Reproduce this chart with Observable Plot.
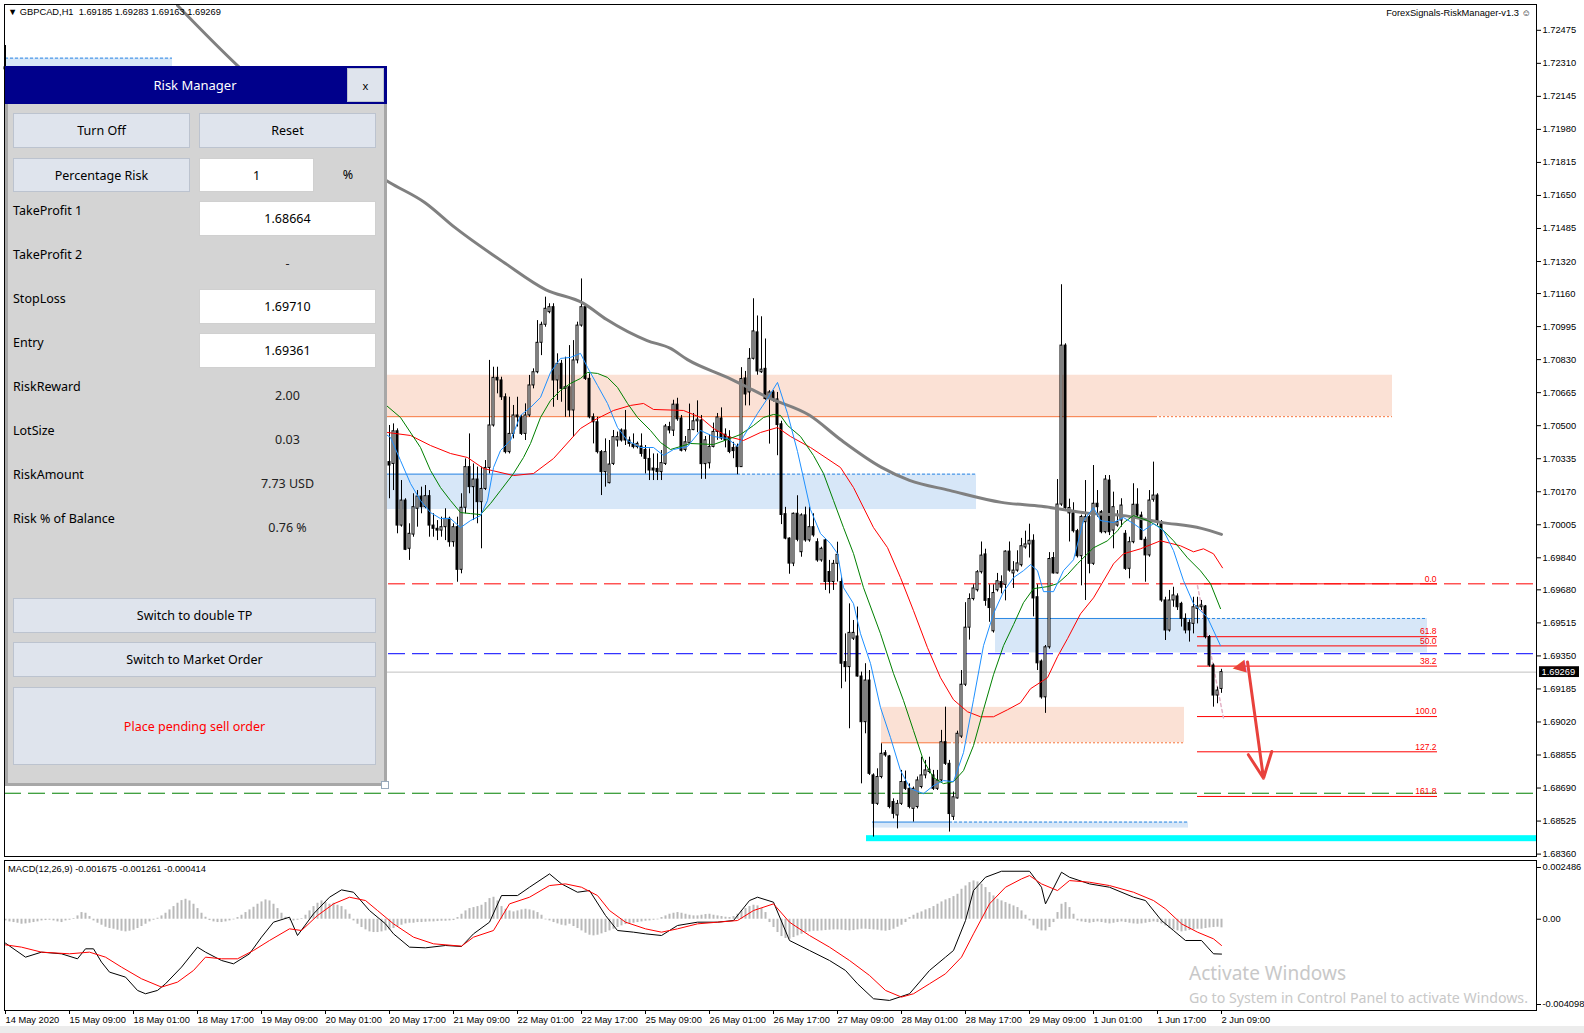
<!DOCTYPE html>
<html>
<head>
<meta charset="utf-8">
<script src="https://cdn.jsdelivr.net/npm/d3@7"></script>
<script src="https://cdn.jsdelivr.net/npm/@observablehq/plot@0.6"></script>
<style>
html,body{margin:0;padding:0;background:#fff;}
#wrap{position:relative;width:1584px;height:1033px;overflow:hidden;background:#fff;}
.abs{position:absolute;}
.t9{position:absolute;font-family:"Liberation Sans",Arial,sans-serif;font-size:9.3px;color:#000;white-space:pre;line-height:10px;}
.pf{font-family:"Noto Sans",sans-serif;font-size:12.5px;color:#000;}
.btn{position:absolute;box-sizing:border-box;background:#dfe4ed;border:1px solid #bcc3cf;display:flex;align-items:center;justify-content:center;}
.box{position:absolute;box-sizing:border-box;background:#fff;border:1px solid #d0d0d0;display:flex;align-items:center;justify-content:center;}
.lbl{position:absolute;left:13px;transform:translateY(-50%);white-space:nowrap;}
.val{position:absolute;left:199px;width:177px;text-align:center;transform:translateY(-50%);color:#222;}
</style>
</head>
<body>
<div id="wrap">
  <div id="main" class="abs" style="left:0;top:0"></div>
  <div id="macd" class="abs" style="left:0;top:858px"></div>

  <div class="t9" style="left:8px;top:7px">▼ GBPCAD,H1  1.69185 1.69283 1.69163 1.69269</div>
  <div class="t9" style="right:53px;top:8px">ForexSignals-RiskManager-v1.3 ☺</div>
  <div class="t9" style="left:8px;top:864px">MACD(12,26,9) -0.001675 -0.001261 -0.000414</div>

  <!-- Risk manager panel -->
  <div class="abs" style="left:5px;top:66px;width:382px;height:720px;background:#d4d4d4;box-sizing:border-box;border:3px solid #a7a7a7;border-top:none;"></div>
  <div class="abs pf" style="left:5px;top:66px;width:382px;height:38px;background:#00008b;"></div>
  <div class="abs pf" style="left:5px;top:66px;width:380px;height:38px;line-height:38px;text-align:center;color:#fff;font-size:13px;">Risk Manager</div>
  <div class="btn pf" style="left:347px;top:68px;width:37px;height:34px;font-size:11px;">x</div>

  <div class="btn pf" style="left:13px;top:113px;width:177px;height:35px;">Turn Off</div>
  <div class="btn pf" style="left:199px;top:113px;width:177px;height:35px;">Reset</div>
  <div class="btn pf" style="left:13px;top:158px;width:177px;height:34px;">Percentage Risk</div>
  <div class="box pf" style="left:199px;top:158px;width:115px;height:34px;">1</div>
  <div class="abs pf" style="left:338px;top:166px;width:20px;text-align:center;">%</div>

  <div class="lbl pf" style="top:210px">TakeProfit 1</div>
  <div class="box pf" style="left:199px;top:201px;width:177px;height:35px;">1.68664</div>
  <div class="lbl pf" style="top:254px">TakeProfit 2</div>
  <div class="val pf" style="top:263px">-</div>
  <div class="lbl pf" style="top:298px">StopLoss</div>
  <div class="box pf" style="left:199px;top:289px;width:177px;height:35px;">1.69710</div>
  <div class="lbl pf" style="top:342px">Entry</div>
  <div class="box pf" style="left:199px;top:333px;width:177px;height:35px;">1.69361</div>
  <div class="lbl pf" style="top:386px">RiskReward</div>
  <div class="val pf" style="top:395px">2.00</div>
  <div class="lbl pf" style="top:430px">LotSize</div>
  <div class="val pf" style="top:439px">0.03</div>
  <div class="lbl pf" style="top:474px">RiskAmount</div>
  <div class="val pf" style="top:483px">7.73 USD</div>
  <div class="lbl pf" style="top:518px">Risk % of Balance</div>
  <div class="val pf" style="top:527px">0.76 %</div>

  <div class="btn pf" style="left:13px;top:598px;width:363px;height:35px;">Switch to double TP</div>
  <div class="btn pf" style="left:13px;top:642px;width:363px;height:35px;">Switch to Market Order</div>
  <div class="btn pf" style="left:13px;top:687px;width:363px;height:78px;color:#ff0000;">Place pending sell order</div>
  <div class="abs" style="left:381px;top:781px;width:6px;height:6px;background:#fff;border:1px solid #9ab;"></div>

  <div class="abs" style="left:1189px;top:960px;font-family:'Noto Sans',sans-serif;font-size:19px;color:#c8c8c8;white-space:nowrap;">Activate Windows</div>
  <div class="abs" style="left:1189px;top:988px;font-family:'Noto Sans',sans-serif;font-size:14.2px;color:#c8c8c8;white-space:nowrap;">Go to System in Control Panel to activate Windows.</div>
  <div class="abs" style="left:0;top:1026px;width:1584px;height:7px;background:#ececec;"></div>
</div>

<script>
// ---------------- DATA ----------------
// price axis tick labels
const priceTicks = [1.72475,1.72310,1.72145,1.71980,1.71815,1.71650,1.71485,1.71320,1.71160,1.70995,1.70830,1.70665,1.70500,1.70335,1.70170,1.70005,1.69840,1.69680,1.69515,1.69350,1.69185,1.69020,1.68855,1.68690,1.68525,1.68360];
// time axis labels (bar index of each label)
const timeLabels = ["14 May 2020","15 May 09:00","18 May 01:00","18 May 17:00","19 May 09:00","20 May 01:00","20 May 17:00","21 May 09:00","22 May 01:00","22 May 17:00","25 May 09:00","26 May 01:00","26 May 17:00","27 May 09:00","28 May 01:00","28 May 17:00","29 May 09:00","1 Jun 01:00","1 Jun 17:00","2 Jun 09:00"];
const timeTickBars = [0,16,32,48,64,80,96,112,128,144,160,176,192,208,224,240,256,272,288,304];

// H1 candles (price x 1e5). bar 0 partly visible above the panel, then bars 96..304
const bar0 = [172290,172399,172200,172280];
const firstBar = 96;
const opens = [170318,170309,170472,170001,170126,169885,169956,170085,170146,170093,
170148,170001,169985,169976,169993,170035,169918,169993,169780,170090,
170293,170193,170231,170118,170184,170289,170501,170739,170726,170642,
170368,170459,170551,170542,170459,170551,170701,170767,170914,171004,
171067,171092,170726,170809,170684,170692,170576,170826,171000,171092,
170734,170542,170517,170368,170268,170213,170309,170426,170476,170476,
170426,170406,170393,170396,170379,170334,170286,170284,170268,170309,
170493,170475,170605,170536,170379,170412,170478,170522,170526,170308,
170312,170394,170469,170536,170455,170442,170389,170392,170293,170736,
170666,170834,170966,170767,170784,170633,170666,170631,170507,170058,
169936,169811,170060,169868,170052,169927,169993,169918,169827,169927,
169769,169719,169810,169719,169319,169294,169436,169447,169247,169019,
169227,168753,168611,168745,168864,168848,168620,168553,168611,168720,
168686,168586,168595,168695,168753,168770,168753,168686,168728,168919,
168811,168546,168638,168947,169206,169491,169634,169678,169768,169857,
169634,169473,169678,169719,169705,169871,169762,169776,169803,169892,
169907,169925,169643,169322,169143,169393,169839,169762,170106,170900,
170062,170062,169973,169848,170018,170043,169810,170110,170068,169968,
170226,169976,170001,170026,169960,169785,169918,170105,170051,169930,
169852,170130,170151,170018,169627,169477,169627,169647,169610,169535,
169514,169510,169585,169593,169597,169444,169302,169152,169185];
const highs = [170501,170509,170484,170226,170135,170010,170160,170176,170193,170201,
170176,170060,170026,170043,170085,170043,170010,170043,170160,170334,
170459,170309,170293,170293,170326,170826,170792,170792,170742,170659,
170642,170601,170642,170550,170609,170751,170784,171025,171017,171142,
171109,171109,170859,170826,170842,170900,170925,171017,171233,171100,
170759,170559,170542,170376,170434,170426,170476,170468,170484,170576,
170443,170459,170418,170459,170401,170384,170359,170359,170376,170506,
170517,170627,170637,170551,170446,170608,170561,170624,170551,170446,
170455,170513,170561,170589,170484,170475,170417,170408,170790,170771,
170885,171134,171048,171044,170933,170675,170675,170666,170522,170092,
169940,170064,170150,170060,170093,170093,170060,169935,169893,169935,
169827,169827,169918,169740,169460,169610,169527,169594,169269,169311,
169277,168761,168786,168911,168877,168853,168636,168628,168778,168775,
168711,168695,168745,168844,168828,168844,168778,168778,168978,169094,
168828,168670,168974,169277,169616,169660,169705,169776,169919,169883,
169705,169705,169762,169750,169875,169919,169821,169875,169937,169973,
170008,169955,169705,169330,169402,169866,169866,170231,171204,170909,
170133,170115,169982,170053,170226,170051,170301,170176,170076,170251,
170251,170168,170076,170135,169976,169943,170210,170185,170068,169943,
170176,170318,170160,170026,169643,169677,169693,169660,169618,169560,
169530,169643,169643,169627,169602,169452,169310,169194,169283];
const lows = [170135,170176,169960,169993,169876,169827,169943,169993,170060,170085,
169943,169943,169926,169943,169926,169893,169893,169718,169760,170060,
170160,170026,170010,169885,170176,170259,170493,170659,170626,170359,
170359,170434,170493,170451,170426,170542,170684,170759,170850,170992,
171059,170592,170626,170617,170542,170542,170443,170809,170992,170726,
170534,170409,170359,170151,170193,170209,170301,170393,170418,170401,
170393,170384,170384,170343,170259,170226,170226,170226,170226,170301,
170459,170446,170522,170369,170369,170408,170475,170465,170232,170232,
170284,170389,170427,170427,170389,170360,170335,170255,170293,170599,
170599,170828,170752,170761,170627,170408,170618,170350,170006,169930,
169758,169796,169920,169843,169918,169918,169943,169818,169818,169677,
169660,169677,169719,169186,169219,168986,169427,169244,168711,168961,
168753,168445,168603,168736,168844,168586,168536,168486,168603,168678,
168586,168520,168586,168686,168736,168761,168678,168678,168720,168803,
168470,168528,168635,168938,169197,169429,169625,169669,169759,169598,
169518,169464,169669,169660,169625,169768,169687,169768,169794,169883,
169839,169545,169277,169134,169063,169384,169759,169759,170097,170080,
169919,169964,169839,169700,169627,169760,169802,170043,169960,169960,
169951,169885,169993,169993,169777,169735,169910,170043,169926,169718,
169843,170118,170001,169618,169427,169469,169593,169577,169494,169460,
169419,169460,169510,169577,169435,169294,169094,169111,169163];
const closes = [170301,170472,170001,170126,169880,169960,170093,170146,170093,170148,
170001,169985,169976,169993,170035,169918,169993,169780,170090,170293,
170193,170231,170118,170184,170289,170501,170739,170726,170642,170368,
170459,170551,170542,170459,170551,170701,170767,170914,171004,171084,
171092,170726,170809,170684,170692,170576,170826,171000,171092,170734,
170542,170517,170368,170268,170368,170306,170443,170443,170426,170426,
170409,170393,170409,170359,170334,170276,170276,170268,170313,170496,
170476,170605,170532,170375,170417,170478,170522,170530,170308,170427,
170394,170469,170541,170436,170427,170369,170373,170293,170733,170656,
170834,170971,170771,170780,170633,170666,170627,170503,170054,169936,
169811,170060,169930,170052,169927,169993,169952,169827,169885,169719,
169719,169810,169855,169311,169294,169465,169465,169247,169019,169227,
168761,168611,168745,168861,168853,168595,168561,168611,168720,168686,
168595,168686,168728,168753,168778,168781,168686,168728,168919,168811,
168560,168644,168961,169206,169491,169634,169687,169768,169851,169625,
169589,169664,169723,169691,169871,169776,169776,169812,169898,169907,
169925,169637,169313,169143,169393,169834,169762,170106,170900,170089,
170089,169973,169848,170044,170043,169810,170110,170093,169968,170231,
169968,170093,170018,170101,169785,169918,170105,170051,169930,169852,
170126,170151,170018,169627,169477,169627,169652,169593,169535,169477,
169477,169593,169597,169602,169444,169302,169152,169177,169269];

// moving averages: [bar, price]
const maSlowGray = [[43,1.72599],[58,1.72299],[96,1.71715],[104.8,1.71615],[112.4,1.71489],[125,1.71310],[135,1.71180],[144.5,1.71111],[150.3,1.71030],[160.4,1.70925],[166.25,1.70886],[170.5,1.70830],[180.6,1.70740],[184,1.70707],[190.7,1.70640],[201,1.70552],[209,1.70427],[219,1.70292],[226,1.70227],[236,1.70177],[249,1.70117],[259,1.70097],[271,1.70062],[279,1.70052],[289,1.70017],[299,1.69987],[304,1.69957]];
const maRed = [[95.5,1.70466],[101.25,1.70451],[106.25,1.70401],[111.25,1.70361],[115.5,1.70341],[119.5,1.70286],[127,1.70251],[132,1.70261],[137,1.70336],[143.75,1.70486],[147,1.70526],[152,1.70576],[156.25,1.70601],[159.5,1.70611],[162,1.70581],[169.5,1.70576],[173.75,1.70541],[177,1.70486],[180.5,1.70446],[184.5,1.70426],[188.75,1.70466],[193,1.70491],[196.25,1.70446],[201.25,1.70391],[208.75,1.70291],[212,1.70191],[217,1.69991],[220.5,1.69891],[223.75,1.69741],[227,1.69576],[230.5,1.69391],[233.75,1.69241],[237,1.69131],[240.5,1.69071],[243.75,1.69046],[247,1.69046],[250.5,1.69081],[253.75,1.69116],[256.25,1.69186],[260.5,1.69241],[263,1.69346],[265.5,1.69436],[268.75,1.69560],[272,1.69640],[277,1.69810],[279.5,1.69860],[283.75,1.69885],[288.75,1.69925],[293.75,1.69900],[297,1.69870],[299.5,1.69885],[302,1.69860],[304.25,1.69790]];
const maGreen = [[93.75,1.70626],[98.75,1.70541],[103.75,1.70391],[106.25,1.70276],[108.75,1.70191],[111.25,1.70126],[113.75,1.70066],[116.25,1.70061],[118.75,1.70056],[121.25,1.70111],[123.75,1.70176],[127,1.70261],[129.5,1.70341],[131.25,1.70411],[133.75,1.70541],[136.25,1.70626],[138.75,1.70676],[141.25,1.70711],[143.75,1.70736],[145.5,1.70766],[148,1.70761],[150.5,1.70741],[153,1.70691],[155.5,1.70611],[158,1.70541],[161.25,1.70476],[163.75,1.70416],[166.25,1.70381],[168.75,1.70396],[171.25,1.70411],[177,1.70406],[180.5,1.70431],[183.75,1.70456],[187,1.70501],[189.5,1.70541],[192,1.70556],[193.75,1.70551],[195.5,1.70501],[198.75,1.70446],[202,1.70351],[204.5,1.70261],[207,1.70126],[209.5,1.69991],[212,1.69861],[214.5,1.69691],[218.75,1.69461],[222,1.69262],[224.5,1.69127],[227,1.68977],[229.5,1.68827],[232,1.68742],[234.5,1.68712],[237,1.68722],[239.5,1.68777],[242,1.68902],[244.5,1.69082],[247,1.69256],[249.5,1.69401],[252,1.69506],[254.5,1.69616],[257,1.69686],[260.5,1.69696],[263,1.69711],[265.5,1.69756],[268,1.69811],[272,1.69890],[275.5,1.69925],[278,1.69975],[279.5,1.70015],[282,1.70051],[285.5,1.70026],[288.75,1.69991],[292,1.69925],[295.5,1.69840],[298.75,1.69775],[301.25,1.69711],[303.75,1.69586]];
const maBlue = [[93.75,1.70476],[96.25,1.70441],[98.75,1.70326],[101.25,1.70211],[103.75,1.70126],[106.25,1.70066],[108.75,1.70036],[111.25,1.70036],[113.75,1.69991],[116.25,1.70026],[118.75,1.70051],[120.5,1.70126],[122,1.70291],[123.75,1.70376],[126.25,1.70426],[128.75,1.70551],[131.25,1.70591],[133.75,1.70641],[136.25,1.70766],[138.75,1.70836],[141.25,1.70841],[143.75,1.70861],[145.5,1.70791],[148,1.70701],[150.5,1.70611],[153,1.70491],[155.5,1.70426],[158.75,1.70391],[162,1.70391],[164.5,1.70351],[167,1.70381],[170.5,1.70396],[173.75,1.70476],[177,1.70446],[180.5,1.70436],[183,1.70396],[184.5,1.70446],[188,1.70561],[190.5,1.70636],[193,1.70716],[195.5,1.70561],[198,1.70371],[201.25,1.70081],[203.75,1.69961],[206.25,1.69911],[208,1.69861],[209.5,1.69691],[212,1.69611],[213.75,1.69461],[216.25,1.69312],[218.75,1.69092],[221.25,1.68942],[223.75,1.68777],[226.25,1.68687],[229.5,1.68662],[232,1.68702],[234.5,1.68727],[237,1.68722],[239.5,1.68867],[242,1.69131],[244.5,1.69401],[247,1.69561],[249.5,1.69671],[252,1.69741],[254.5,1.69776],[256.25,1.69806],[258,1.69776],[259.5,1.69671],[262,1.69671],[264.5,1.69776],[267,1.69830],[269.5,1.70026],[272,1.70091],[273.75,1.70026],[277,1.70016],[279.5,1.70041],[282,1.70011],[284.5,1.69976],[287,1.70011],[289.5,1.69976],[292,1.69876],[294.5,1.69726],[297,1.69611],[300.5,1.69541],[303.75,1.69401]];

// supply / demand zones
const zoneKind   = ["supply","demand","demand","supply","demand","demand"];
const zoneStart  = [95.5, 95.5, 247.5, 219, 216.75, 0];
const zoneEnd    = [346.75, 242.75, 355.5, 294.75, 295.75, 41.75];
const zoneHigh   = [1.70752, 1.70258, 1.69537, 1.69093, 1.68520, 1.72336];
const zoneLow    = [1.70545, 1.70081, 1.69365, 1.68916, 1.68490, 1.71900];
const zoneSolidTo= [287.5, 183, 298, 236, 236, 0];

// trade levels
const stopLoss = 1.69710, entry = 1.69361, takeProfit = 1.68664, bid = 1.69269;
const cyanLevelHigh = 1.68452, cyanLevelLow = 1.68422, cyanStart = 215.25;
const chartLeftBar = -0.25, chartRightBar = 382.75;

// fibonacci
const fibLabels = ["0.0","61.8","50.0","38.2","100.0","127.2","161.8"];
const fibPrices = [1.69710,1.69446,1.69400,1.69299,1.69047,1.68871,1.68648];
const fibStart = 298, fibEnd = 358;
const fibTrend = [[298,1.69700],[304.5,1.69040]];
const arrowDown = [310.5,1.69320,314.5,1.68739];
const arrowHeadUp = [308.2, 1.69292];

// MACD(12,26,9) [bar, value x1e6]
const macdMain = [[0,-1150],[5,-1822],[9,-1582],[14,-1662],[18,-1902],[20,-1422],[22,-1422],[24,-2062],[26,-2542],[30,-2782],[33,-3422],[35,-3582],[38,-3422],[40,-3102],[44,-2302],[48,-1342],[50,-1582],[54,-1982],[57,-2142],[61,-1662],[64,-862],[67,-142],[71,98],[73,-782],[77,258],[81,1058],[84,1410],[87,1298],[91,418],[95,-222],[97,-702],[101,-1342],[105,-1374],[110,-1262],[114,-1310],[117,-702],[121,-142],[124,1138],[128,1138],[131,1538],[136,2178],[139,1698],[143,1298],[146,1378],[150,178],[153,-542],[157,-622],[160,-702],[164,-782],[168,-302],[173,-142],[178,-142],[182,-62],[186,898],[188,1058],[192,818],[196,-1022],[201,-1502],[206,-1982],[210,-2462],[213,-3102],[217,-3822],[221,-3902],[226,-3582],[231,-2462],[235,-1822],[237,-1502],[240,-62],[242,1378],[245,2018],[249,2306],[256,2306],[259,1538],[260,738],[264,2258],[266,2018],[271,1698],[276,1538],[282,1058],[285,898],[289,-62],[292,-542],[295,-1022],[299,-1022],[302,-1662],[304,-1675]];
const macdSignal = [[0,-1230],[4,-1342],[9,-1582],[16,-1662],[21,-1582],[25,-1822],[29,-2302],[34,-2862],[39,-3262],[43,-3022],[47,-2462],[50,-1822],[54,-1902],[58,-1902],[62,-1502],[66,-1022],[71,-462],[74,-542],[78,178],[82,738],[86,1058],[90,898],[93,418],[97,-222],[102,-862],[107,-1182],[114,-1294],[117,-862],[122,-542],[126,738],[131,1058],[136,1618],[140,1698],[144,1538],[148,1138],[151,418],[155,-142],[160,-462],[164,-622],[168,-462],[173,-222],[178,-142],[183,-62],[187,418],[192,738],[196,-142],[201,-782],[206,-1342],[211,-1982],[216,-2702],[220,-3422],[224,-3742],[227,-3582],[231,-3102],[235,-2622],[239,-1822],[242,-702],[246,738],[250,1538],[254,1938],[256,2098],[259,1698],[263,1378],[266,1858],[271,1778],[276,1618],[282,1298],[287,898],[290,498],[294,-222],[298,-622],[302,-942],[304,-1261]];
// histogram per bar 0..304 (x1e6)
const macdHist = [-80,-128,-160,-192,-240,-224,-192,-160,-128,-80,-64,-48,-80,-128,-160,
-80,-48,32,
160,320,288,128,
-80,-192,-288,-384,-448,-480,-528,-576,-608,-576,-528,-448,-352,-240,-128,-48,
48,160,288,448,608,768,896,960,880,720,512,288,96,
-64,-128,-160,-160,-128,-80,-32,
80,192,320,448,576,720,832,928,880,720,512,288,96,
-48,-80,-48,32,
192,400,608,768,880,800,720,768,672,608,448,240,
-80,-240,-400,-512,-608,-640,-640,-608,-560,-512,-448,-352,-288,-224,-192,
-192,-160,-160,-144,-128,-128,-112,-96,-96,-80,-64,
80,240,400,512,560,608,672,800,992,1056,
880,608,480,400,352,400,448,480,448,400,320,192,
-32,-80,-160,-224,-288,-320,-240,
-352,-448,-560,-672,-768,-800,-768,-704,-640,-560,-480,-400,-320,-256,
-224,-192,-160,-128,-96,-80,-48,-32,
80,160,240,288,320,288,240,192,160,160,192,224,240,192,160,128,96,80,128,
240,400,512,608,672,640,512,320,
-160,-400,-640,-832,-928,-960,-880,-800,-720,-640,-608,-576,
-576,-560,-544,-528,-512,-512,-528,-544,-560,-544,-512,-480,-480,-496,-512,-528,-560,-576,-544,-480,-384,-288,-160,
80,192,288,352,448,512,608,720,832,928,992,1088,1200,
1440,1600,1760,1840,1792,1680,1520,
1280,1120,960,880,800,720,640,560,400,
192,-80,-320,-480,-560,
-560,-400,-160,
320,720,800,560,240,
-80,-128,-160,-192,-160,-128,-160,-192,-224,-192,-160,-128,-160,-192,-224,-240,-224,-192,-160,-128,-160,-224,
-320,-448,-512,-560,-608,-576,-544,-512,-480,-480,-448,-416,-400,-384,-414];
const macdTicks = [0.002486, 0, -0.004098];
const macdTickLabels = ["0.002486","0.00","-0.004098"];

// ---------------- BUILD ----------------
const sc = v => v / 1e5;
const candles = [{i:0, o:sc(bar0[0]), h:sc(bar0[1]), l:sc(bar0[2]), c:sc(bar0[3])}];
opens.forEach((o, k) => candles.push({i:firstBar + k, o:sc(o), h:sc(highs[k]), l:sc(lows[k]), c:sc(closes[k])}));
const bull = candles.filter(d => d.c >= d.o), bear = candles.filter(d => d.c < d.o);

const zones = zoneKind.map((k, j) => ({kind:k, x1:zoneStart[j], x2:zoneEnd[j], hi:zoneHigh[j], lo:zoneLow[j],
  edge: k === "supply" ? zoneLow[j] : zoneHigh[j], solidTo: zoneSolidTo[j]}));
const supplyFill = "#fbe1d5", supplyLine = "#f7743a", demandFill = "#d7e7f8", demandLine = "#2b87e3";
const solidEdges = zones.filter(z => z.solidTo > z.x1);
const dashEdges = zones.map(z => ({...z, from: Math.max(z.x1, z.solidTo)}));

const fib = fibLabels.map((t, j) => ({t, p: fibPrices[j]}));

const xScale = {type:"linear", domain:[0,304], range:[5,1221], axis:null};
const font = {fontFamily:"'Liberation Sans', Arial, sans-serif", fontSize:"9.3px", color:"#000", background:"transparent", overflow:"visible"};

const main = Plot.plot({
  width:1584, height:858,
  marginLeft:4, marginRight:48, marginTop:4, marginBottom:2,
  x: xScale,
  y: {domain:[1.68360,1.72475], range:[853.6,29.8]},
  style: font,
  marks: [
    // zones
    Plot.rect(zones, {x1:"x1", x2:"x2", y1:"lo", y2:"hi", fill: d => d.kind === "supply" ? supplyFill : demandFill}),
    Plot.ruleY(solidEdges.filter(z => z.kind === "supply"), {y:"edge", x1:"x1", x2:"solidTo", stroke:supplyLine}),
    Plot.ruleY(solidEdges.filter(z => z.kind === "demand"), {y:"edge", x1:"x1", x2:"solidTo", stroke:demandLine}),
    Plot.ruleY(dashEdges.filter(z => z.kind === "supply"), {y:"edge", x1:"from", x2:"x2", stroke:supplyLine, strokeDasharray:"2,2"}),
    Plot.ruleY(dashEdges.filter(z => z.kind === "demand"), {y:"edge", x1:"from", x2:"x2", stroke:demandLine, strokeDasharray:"3,2"}),
    Plot.rect([{a:cyanStart, b:chartRightBar, lo:cyanLevelLow, hi:cyanLevelHigh}], {x1:"a", x2:"b", y1:"lo", y2:"hi", fill:"#00ffff"}),
    // trade levels
    Plot.ruleY([bid], {x1:chartLeftBar, x2:chartRightBar, stroke:"#c0c0c0"}),
    Plot.ruleY([stopLoss], {x1:chartLeftBar, x2:chartRightBar, stroke:"#ff0000", strokeDasharray:"17,7"}),
    Plot.ruleY([entry], {x1:chartLeftBar, x2:chartRightBar, stroke:"#0000ff", strokeDasharray:"17,7"}),
    Plot.ruleY([takeProfit], {x1:chartLeftBar, x2:chartRightBar, stroke:"#008000", strokeDasharray:"17,7"}),
    // fibonacci
    Plot.ruleY(fib, {y:"p", x1:fibStart, x2:fibEnd, stroke:"#ff0000"}),
    Plot.text(fib, {x:fibEnd - 0.25, y:"p", text:"t", textAnchor:"end", dy:-5, fill:"#ff0000", fontSize:8.5}),
    Plot.line(fibTrend, {x:d=>d[0], y:d=>d[1], stroke:"#e4b2c6", strokeDasharray:"3,3"}),
    // candles
    Plot.ruleX(candles, {x:"i", y1:"l", y2:"h", stroke:"#000"}),
    Plot.rect(bull, {x1:d=>d.i-0.25, x2:d=>d.i+0.25, y1:"o", y2:"c", fill:"#fff", stroke:"#000"}),
    Plot.rect(bear, {x1:d=>d.i-0.25, x2:d=>d.i+0.25, y1:"o", y2:"c", fill:"#000", stroke:"#000"}),
    // moving averages
    Plot.line(maSlowGray, {x:d=>d[0], y:d=>d[1], stroke:"#808080", strokeWidth:3, curve:"monotone-x"}),
    Plot.line(maRed, {x:d=>d[0], y:d=>d[1], stroke:"#ff0000", strokeWidth:1}),
    Plot.line(maGreen, {x:d=>d[0], y:d=>d[1], stroke:"#008000", strokeWidth:1}),
    Plot.line(maBlue, {x:d=>d[0], y:d=>d[1], stroke:"#1e90ff", strokeWidth:1}),
    // arrow
    Plot.arrow([arrowDown], {x1:d=>d[0], y1:d=>d[1], x2:d=>d[2], y2:d=>d[3], stroke:"#e8413c", strokeWidth:3, headLength:14, headAngle:50}),
    Plot.text([arrowHeadUp], {x:d=>d[0], y:d=>d[1], text:()=>"▲", rotate:-100, fontSize:17, fill:"#e8413c", fontFamily:"DejaVu Sans"}),
    // axis & frame
    Plot.frame({stroke:"#000"}),
    Plot.axisY({anchor:"right", ticks:priceTicks, tickFormat:d=>d.toFixed(5), tickSize:4, tickPadding:2, label:null}),
    // bid label box
    Plot.rect([bid], {x1:383.5, x2:393.5, y1:d=>d-0.00027, y2:d=>d+0.00027, fill:"#000"}),
    Plot.text([bid], {x:384, y:d=>d, text:d=>d.toFixed(5), textAnchor:"start", fill:"#fff"})
  ]
});
document.getElementById("main").appendChild(main);

const histData = macdHist.map((v, i) => ({i, v: v / 1e6}));
const tickLabelMap = new Map(macdTicks.map((t, j) => [t, macdTickLabels[j]]));
const timeLabelMap = new Map(timeTickBars.map((b, j) => [b, timeLabels[j]]));
const macd = Plot.plot({
  width:1584, height:175,
  marginLeft:4, marginRight:48, marginTop:2, marginBottom:23,
  x: xScale,
  y: {domain:[-0.004098,0.002486], range:[146,9]},
  style: font,
  marks: [
    Plot.ruleX(histData, {x:"i", y1:0, y2:"v", stroke:"#b9b9b9", strokeWidth:2}),
    Plot.line(macdMain, {x:d=>d[0], y:d=>d[1]/1e6, stroke:"#000", strokeWidth:1}),
    Plot.line(macdSignal, {x:d=>d[0], y:d=>d[1]/1e6, stroke:"#ff0000", strokeWidth:1}),
    Plot.frame({stroke:"#000"}),
    Plot.axisY({anchor:"right", ticks:macdTicks, tickFormat:d=>tickLabelMap.get(d), tickSize:4, tickPadding:2, label:null}),
    Plot.axisX({anchor:"bottom", ticks:timeTickBars, tickFormat:d=>timeLabelMap.get(d), tickSize:4, tickPadding:2, textAnchor:"start", dx:0, label:null})
  ]
});
document.getElementById("macd").appendChild(macd);
</script>
</body>
</html>
